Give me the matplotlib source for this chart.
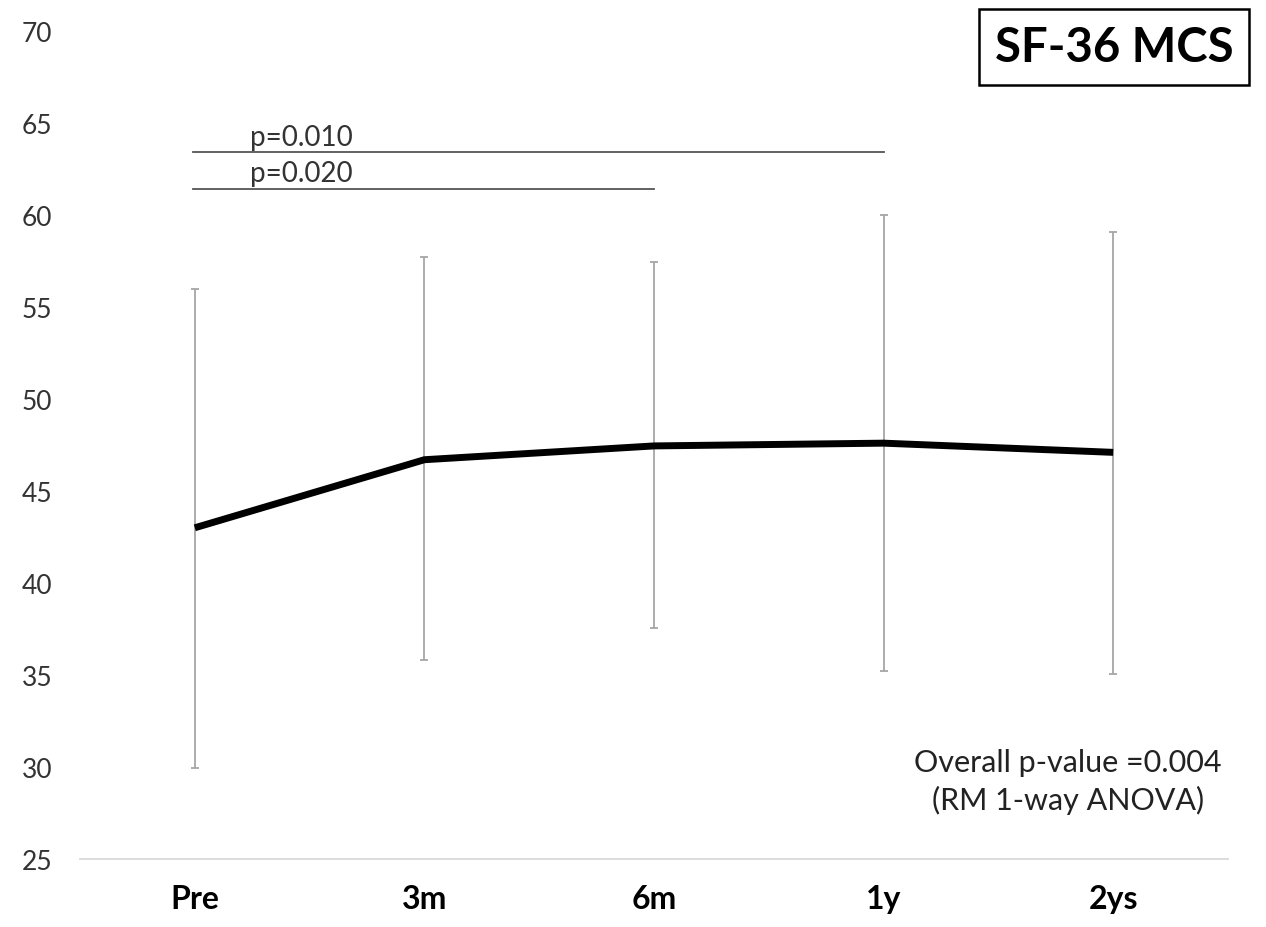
import matplotlib
matplotlib.use("Agg")
import matplotlib.pyplot as plt
import numpy as np

categories = ["Pre", "3m", "6m", "1y", "2ys"]
means = [43.0, 46.7, 47.45, 47.6, 47.1]
upper = [56.0, 57.7, 57.45, 60.0, 59.1]
lower = [29.95, 35.8, 37.55, 35.2, 35.05]
yticks = [25, 30, 35, 40, 45, 50, 55, 60, 65, 70]
sig_pairs = [(0, 3, 63.4, "p=0.010"), (0, 2, 61.4, "p=0.020")]

plt.rcParams['font.family'] = ['Lato', 'DejaVu Sans']

fig = plt.figure(figsize=(12.66, 9.28), dpi=100)
ax = fig.add_axes([80/1266, 68/928, 1148/1266, (860-32)/928])

x = np.arange(len(categories))
m = np.array(means)
err = np.array([m - np.array(lower), np.array(upper) - m])
ax.errorbar(x, m, yerr=err, fmt='none', ecolor='#a6a6a6', elinewidth=1.3,
            capsize=3, capthick=1.3, zorder=1)
ax.plot(x, m, color='black', linewidth=5, solid_capstyle='butt', zorder=2)

for x0, x1, y, label in sig_pairs:
    ax.plot([x0 - 0.01, x1], [y, y], color='#555555', linewidth=1.3, zorder=1)
    ax.text(x0 + 0.465, y + 0.15, label, ha='center', va='bottom', fontsize=20, color='#333333')

ax.set_xlim(-0.5, 4.5)
ax.set_ylim(25, 70)
ax.set_yticks(yticks)
ax.set_xticks(x)
ax.set_xticklabels(categories, fontweight='bold', fontsize=23)
ax.tick_params(axis='y', labelsize=19, length=0, pad=42, labelcolor='#333333')
ax.tick_params(axis='x', length=0, pad=18)
for lbl in ax.get_yticklabels():
    lbl.set_horizontalalignment('left')
for s in ['top', 'right', 'left']:
    ax.spines[s].set_visible(False)
ax.spines['bottom'].set_color('#d9d9d9')
ax.spines['bottom'].set_linewidth(1.3)

fig.text(1068/1266, 1 - 782/928, "Overall p-value =0.004\n(RM 1-way ANOVA)", ha='center', va='center',
         fontsize=22, color='#222222', linespacing=1.4, multialignment='center')

fig.text(1114/1266, 1 - 48/928, "SF-36 MCS", ha='center', va='center', fontsize=34, fontweight='bold',
         bbox=dict(boxstyle='square,pad=0.33', facecolor='white', edgecolor='black', linewidth=1.8))

fig.savefig("out.png", dpi=100)
